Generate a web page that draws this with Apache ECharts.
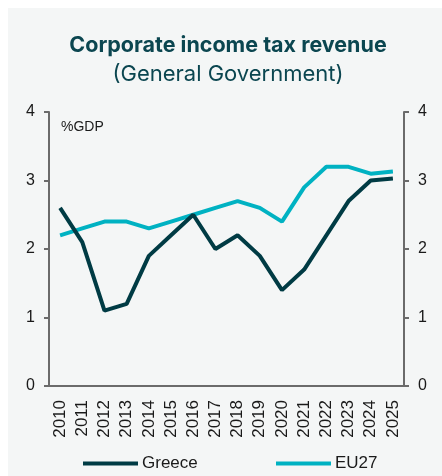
<!DOCTYPE html>
<html>
<head>
<meta charset="utf-8">
<script src="https://cdn.jsdelivr.net/npm/echarts@6/dist/echarts.min.js"></script>
<style>
  html, body { margin: 0; padding: 0; background: #ffffff; }
  #chart { width: 442px; height: 476px; }
</style>
</head>
<body>
<div id="chart"></div>
<script>
// Corporate income tax revenue, % of GDP
const years = ['2010','2011','2012','2013','2014','2015','2016','2017','2018','2019','2020','2021','2022','2023','2024','2025'];
const greece = [2.6, 2.1, 1.1, 1.2, 1.9, 2.2, 2.5, 2.0, 2.2, 1.9, 1.4, 1.7, 2.2, 2.7, 3.0, 3.03];
const eu27   = [2.2, 2.3, 2.4, 2.4, 2.3, 2.4, 2.5, 2.6, 2.7, 2.6, 2.4, 2.9, 3.2, 3.2, 3.1, 3.13];
const yTicks = [0, 1, 2, 3, 4];

const DARK = '#003b44';
const CYAN = '#00b2c2';
const AXIS = '#6b6b6b';
const FONT = '"Liberation Sans", Arial, sans-serif';
const TITLE_FONT = 'Inter, "Open Sans", sans-serif';

const chart = echarts.init(document.getElementById('chart'), null, { renderer: 'canvas' });

function valueAxis(position) {
  return {
    type: 'value',
    position: position,
    min: yTicks[0],
    max: yTicks[yTicks.length - 1],
    interval: 1,
    axisLine: { show: true, lineStyle: { color: AXIS, width: 2 } },
    axisTick: { show: true, length: 5, lineStyle: { color: AXIS, width: 2 } },
    splitLine: { show: false },
    axisLabel: { color: '#1a1a1a', fontSize: 16, fontFamily: FONT, margin: 14 }
  };
}

chart.setOption({
  animation: false,
  backgroundColor: '#ffffff',
  graphic: [
    { type: 'rect', z: -10, silent: true,
      shape: { x: 8, y: 8, width: 434, height: 468 },
      style: { fill: '#f4f6f6' } },
    { type: 'text', left: 61, top: 120,
      style: { text: '%GDP', fill: '#1a1a1a', font: '14px ' + FONT } }
  ],
  title: {
    text: 'Corporate income tax revenue',
    subtext: '(General Government)',
    left: 223,
    textAlign: 'center',
    top: 30,
    itemGap: 6,
    textStyle: { color: '#0b4650', fontSize: 21.5, fontWeight: 'bold', fontFamily: TITLE_FONT },
    subtextStyle: { color: '#0b4650', fontSize: 22, fontFamily: TITLE_FONT }
  },
  legend: [
    { data: ['Greece'], left: 83, top: 455, padding: 0, icon: 'rect', itemWidth: 55, itemHeight: 4, itemGap: 4,
      textStyle: { color: '#1a1a1a', fontSize: 17, fontFamily: FONT, padding: [0, 0, 0, -1] } },
    { data: ['EU27'], left: 276, top: 455, padding: 0, icon: 'rect', itemWidth: 55, itemHeight: 4, itemGap: 4,
      textStyle: { color: '#1a1a1a', fontSize: 17, fontFamily: FONT, padding: [0, 0, 0, -1] } }
  ],
  grid: { left: 49, right: 38, top: 112, bottom: 90, containLabel: false },
  xAxis: {
    type: 'category',
    data: years,
    boundaryGap: true,
    axisLine: { show: true, lineStyle: { color: AXIS, width: 2 } },
    axisTick: { show: false },
    axisLabel: { rotate: 90, color: '#1a1a1a', fontSize: 17, fontFamily: FONT, margin: 14, interval: 0 }
  },
  yAxis: [valueAxis('left'), valueAxis('right')],
  series: [
    { name: 'Greece', type: 'line', data: greece, yAxisIndex: 0, symbol: 'none',
      lineStyle: { color: DARK, width: 4 }, itemStyle: { color: DARK }, z: 3 },
    { name: 'EU27', type: 'line', data: eu27, yAxisIndex: 0, symbol: 'none',
      lineStyle: { color: CYAN, width: 4 }, itemStyle: { color: CYAN }, z: 2 }
  ]
});
</script>
</body>
</html>
